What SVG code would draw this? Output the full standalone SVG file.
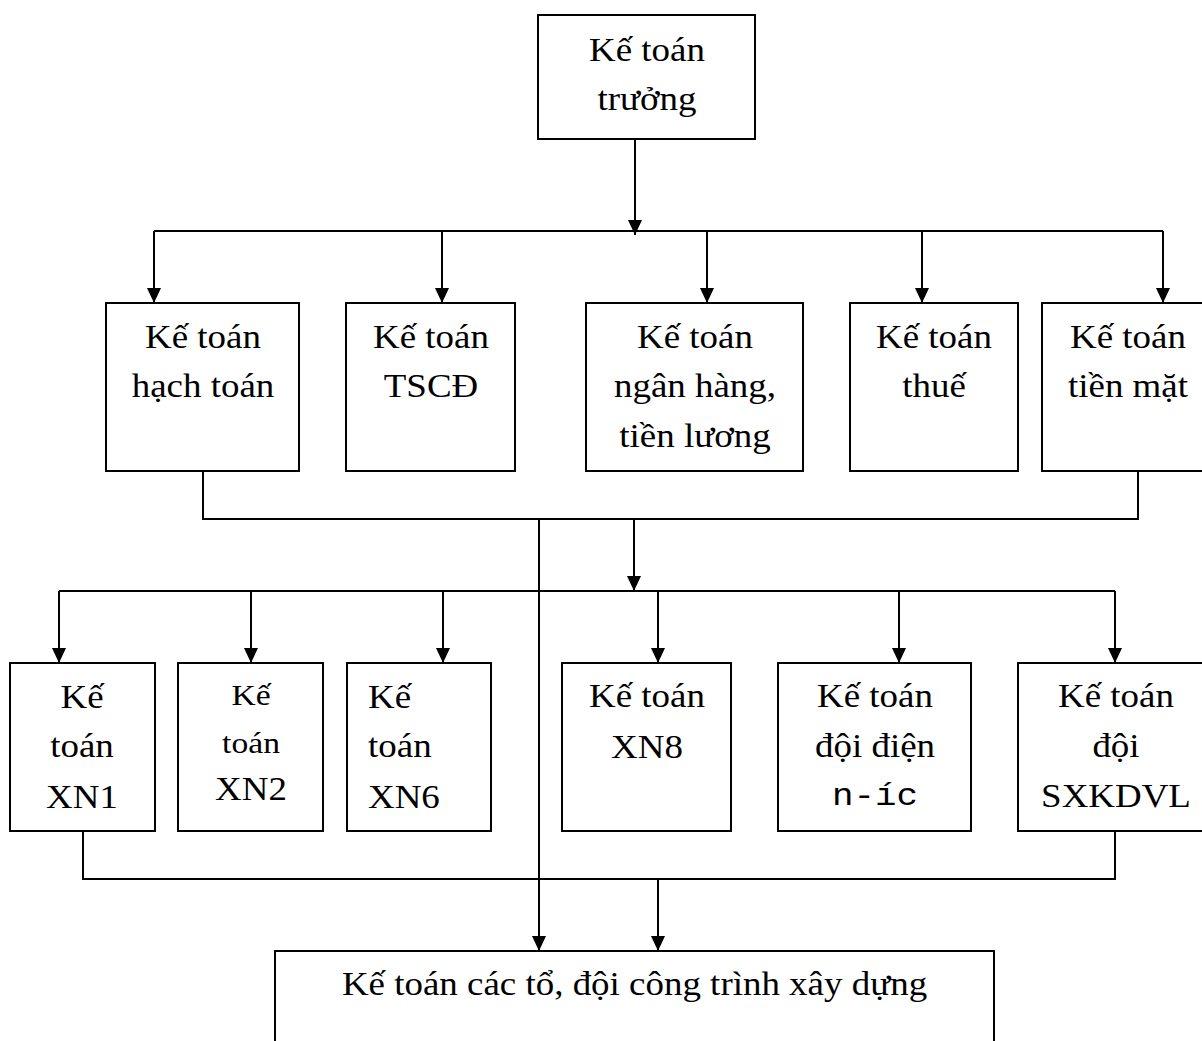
<svg xmlns="http://www.w3.org/2000/svg" width="1202" height="1041" viewBox="0 0 1202 1041">
  <style>
    .box { fill: #ffffff; stroke: #000000; stroke-width: 2; }
    .t { font-family: "Liberation Serif", "Times New Roman", serif; font-size: 33px; fill: #000000; text-anchor: middle; }
    .s { font-size: 30px; }
    .m { font-family: "Liberation Mono", "Courier New", monospace; font-size: 32px; }
    .l { text-anchor: start; }
    .c { fill: none; stroke: #000000; stroke-width: 2; }
    .a { marker-end: url(#arr); }
  </style>
  <defs>
    <marker id="arr" markerUnits="userSpaceOnUse" markerWidth="16" markerHeight="14" refX="15" refY="7" orient="auto">
      <path d="M0,0 L15,7 L0,14 Z" fill="#000000"/>
    </marker>
  </defs>
  <rect width="1202" height="1041" fill="#ffffff"/>

  <g id="connectors">
    <path class="c a" d="M635 139 V235"/>
    <path class="c" d="M154 231 H1163"/>
    <path class="c a" d="M154 231 V303"/>
    <path class="c a" d="M442 231 V303"/>
    <path class="c a" d="M707 231 V303"/>
    <path class="c a" d="M922 231 V303"/>
    <path class="c a" d="M1163 231 V303"/>
    <path class="c" d="M203 471 V519 H1138 V471"/>
    <path class="c a" d="M634 519 V591"/>
    <path class="c a" d="M539 519 V951"/>
    <path class="c" d="M59 591 H1115"/>
    <path class="c a" d="M59 591 V663"/>
    <path class="c a" d="M251 591 V663"/>
    <path class="c a" d="M443 591 V663"/>
    <path class="c a" d="M658 591 V663"/>
    <path class="c a" d="M899 591 V663"/>
    <path class="c a" d="M1115 591 V663"/>
    <path class="c" d="M83 831 V879 H1115 V831"/>
    <path class="c a" d="M658 879 V951"/>
  </g>

  <g id="ke-toan-truong">
    <rect class="box" x="538" y="15" width="217" height="124"/>
    <g transform="translate(647 0) scale(1.12 1)">
      <text class="t" x="0" y="61">Kế toán</text>
      <text class="t" x="0" y="110">trưởng</text>
    </g>
  </g>

  <g id="hach-toan">
    <rect class="box" x="106" y="303" width="193" height="168"/>
    <g transform="translate(203 0) scale(1.12 1)">
      <text class="t" x="0" y="348">Kế toán</text>
      <text class="t" x="0" y="397">hạch toán</text>
    </g>
  </g>

  <g id="tscd">
    <rect class="box" x="346" y="303" width="169" height="168"/>
    <g transform="translate(431 0) scale(1.12 1)">
      <text class="t" x="0" y="348">Kế toán</text>
      <text class="t" x="0" y="397">TSCĐ</text>
    </g>
  </g>

  <g id="ngan-hang">
    <rect class="box" x="586" y="303" width="217" height="168"/>
    <g transform="translate(695 0) scale(1.12 1)">
      <text class="t" x="0" y="348">Kế toán</text>
      <text class="t" x="0" y="397">ngân hàng,</text>
      <text class="t" x="0" y="447">tiền lương</text>
    </g>
  </g>

  <g id="thue">
    <rect class="box" x="850" y="303" width="168" height="168"/>
    <g transform="translate(934 0) scale(1.12 1)">
      <text class="t" x="0" y="348">Kế toán</text>
      <text class="t" x="0" y="397">thuế</text>
    </g>
  </g>

  <g id="tien-mat">
    <rect class="box" x="1042" y="303" width="180" height="168"/>
    <g transform="translate(1128 0) scale(1.12 1)">
      <text class="t" x="0" y="348">Kế toán</text>
      <text class="t" x="0" y="397">tiền mặt</text>
    </g>
  </g>

  <g id="xn1">
    <rect class="box" x="10" y="663" width="145" height="168"/>
    <g transform="translate(82 0) scale(1.12 1)">
      <text class="t" x="0" y="708">Kế</text>
      <text class="t" x="0" y="757">toán</text>
      <text class="t" x="0" y="808">XN1</text>
    </g>
  </g>

  <g id="xn2">
    <rect class="box" x="178" y="663" width="145" height="168"/>
    <g transform="translate(251 0) scale(1.12 1)">
      <text class="t s" x="0" y="705">Kế</text>
      <text class="t s" x="0" y="753">toán</text>
      <text class="t" x="0" y="800">XN2</text>
    </g>
  </g>

  <g id="xn6">
    <rect class="box" x="347" y="663" width="144" height="168"/>
    <g transform="translate(368 0) scale(1.12 1)">
      <text class="t l" x="0" y="708">Kế</text>
      <text class="t l" x="0" y="757">toán</text>
      <text class="t l" x="0" y="808">XN6</text>
    </g>
  </g>

  <g id="xn8">
    <rect class="box" x="562" y="663" width="169" height="168"/>
    <g transform="translate(647 0) scale(1.12 1)">
      <text class="t" x="0" y="707">Kế toán</text>
      <text class="t" x="0" y="758">XN8</text>
    </g>
  </g>

  <g id="doi-dien-nuoc">
    <rect class="box" x="778" y="663" width="193" height="168"/>
    <g transform="translate(875 0) scale(1.12 1)">
      <text class="t" x="0" y="707">Kế toán</text>
      <text class="t" x="0" y="757">đội điện</text>
      <text class="t m" x="0" y="805">n-íc</text>
    </g>
  </g>

  <g id="doi-sxkdvl">
    <rect class="box" x="1018" y="663" width="200" height="168"/>
    <g transform="translate(1116 0) scale(1.12 1)">
      <text class="t" x="0" y="707">Kế toán</text>
      <text class="t" x="0" y="757">đội</text>
      <text class="t" x="0" y="807">SXKDVL</text>
    </g>
  </g>

  <g id="to-doi-cong-trinh">
    <rect class="box" x="275" y="951" width="719" height="120"/>
    <g transform="translate(634.5 0) scale(1.12 1)">
      <text class="t" x="0" y="995">Kế toán các tổ, đội công trình xây dựng</text>
    </g>
  </g>
</svg>
